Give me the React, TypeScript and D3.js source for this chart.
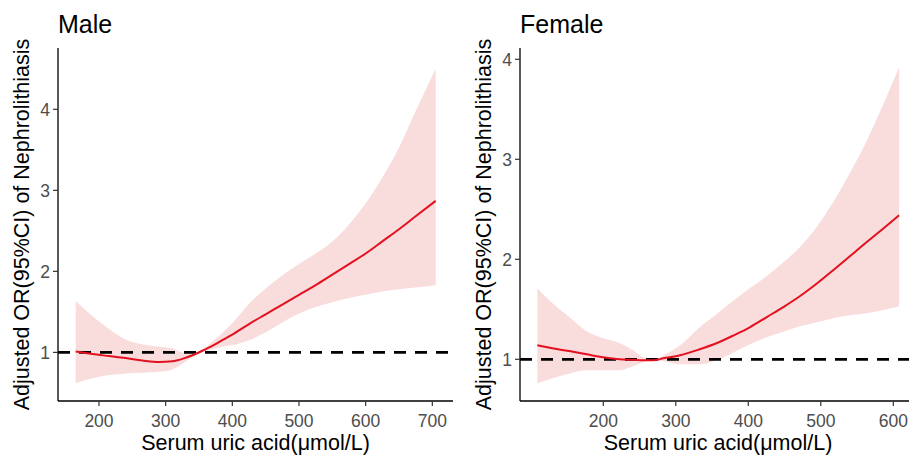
import React from 'react';
import * as d3 from 'd3';

// Male panel: restricted cubic spline OR with 95% CI
const maleUA = [165, 190, 215, 240, 265, 290, 310, 325, 340, 355, 370, 385, 400, 425, 450, 475, 500, 525, 550, 575, 600, 625, 650, 675, 705];
const maleOR = [1.01, 0.98, 0.955, 0.93, 0.9, 0.88, 0.89, 0.92, 0.965, 1.02, 1.08, 1.15, 1.22, 1.35, 1.47, 1.59, 1.71, 1.83, 1.96, 2.09, 2.22, 2.37, 2.52, 2.68, 2.87];
const maleLow = [0.62, 0.68, 0.72, 0.74, 0.75, 0.76, 0.79, 0.86, 0.94, 1.005, 1.04, 1.07, 1.09, 1.15, 1.25, 1.37, 1.48, 1.56, 1.62, 1.67, 1.71, 1.75, 1.78, 1.8, 1.83];
const maleUp = [1.63, 1.45, 1.29, 1.16, 1.1, 1.07, 1.05, 1.0, 0.99, 1.035, 1.13, 1.24, 1.36, 1.6, 1.79, 1.95, 2.09, 2.22, 2.37, 2.58, 2.84, 3.16, 3.53, 3.98, 4.5];

// Female panel
const femaleUA = [109, 130, 155, 177, 200, 223, 241, 255, 269, 283, 306, 333, 356, 380, 402, 425, 450, 471, 495, 517, 540, 563, 585, 608];
const femaleOR = [1.14, 1.11, 1.08, 1.05, 1.02, 1.0, 0.995, 0.99, 0.99, 1.01, 1.04, 1.1, 1.16, 1.24, 1.32, 1.42, 1.53, 1.63, 1.76, 1.89, 2.03, 2.17, 2.3, 2.44];
const femaleLow = [0.76, 0.81, 0.86, 0.89, 0.89, 0.89, 0.93, 0.97, 0.99, 0.98, 0.95, 0.95, 0.99, 1.07, 1.15, 1.22, 1.28, 1.33, 1.37, 1.41, 1.44, 1.46, 1.49, 1.53];
const femaleUp = [1.71, 1.56, 1.41, 1.28, 1.21, 1.16, 1.09, 1.02, 0.995, 1.04, 1.14, 1.32, 1.45, 1.59, 1.71, 1.83, 1.98, 2.12, 2.33, 2.57, 2.86, 3.18, 3.53, 3.92];

const maleXTicks = [200, 300, 400, 500, 600, 700];
const maleYTicks = [1, 2, 3, 4];
const femaleXTicks = [200, 300, 400, 500, 600];
const femaleYTicks = [1, 2, 3, 4];

const font = '"Liberation Sans", Arial, sans-serif';
const xTitle = 'Serum uric acid(μmol/L)';
const yTitle = 'Adjusted OR(95%CI) of Nephrolithiasis';

type PanelProps = {
  title: string;
  xs: number[];
  fit: number[];
  lo: number[];
  hi: number[];
  xDomain: [number, number];
  yDomain: [number, number];
  xTicks: number[];
  yTicks: number[];
  left: number;
  right: number;
};

const top = 48;
const bottom = 401;

function Panel({ title, xs, fit, lo, hi, xDomain, yDomain, xTicks, yTicks, left, right }: PanelProps) {
  const x = d3.scaleLinear().domain(xDomain).range([left, right]);
  const y = d3.scaleLinear().domain(yDomain).range([bottom, top]);
  const idx = xs.map((_, i) => i);

  const band = d3
    .area<number>()
    .x(i => x(xs[i]))
    .y0(i => y(lo[i]))
    .y1(i => y(hi[i]))
    .curve(d3.curveMonotoneX);

  const line = d3
    .line<number>()
    .x(i => x(xs[i]))
    .y(i => y(fit[i]))
    .curve(d3.curveMonotoneX);

  const cx = (left + right) / 2;
  const cy = (top + bottom) / 2;

  return (
    <g>
      <text x={left} y={33} fontSize={25} fontFamily={font} fill="#000">
        {title}
      </text>
      <path d={band(idx) || ''} fill="#f9dcdc" />
      <line x1={left} x2={right} y1={y(1)} y2={y(1)} stroke="#000" strokeWidth={2.8} strokeDasharray="12 9" />
      <path d={line(idx) || ''} fill="none" stroke="#e3101f" strokeWidth={2} />

      <line x1={left} x2={left} y1={top} y2={bottom} stroke="#000" strokeWidth={1.3} />
      <line x1={left} x2={right} y1={bottom} y2={bottom} stroke="#000" strokeWidth={1.3} />

      {yTicks.map(t => (
        <g key={'y' + t}>
          <line x1={left - 5} x2={left} y1={y(t)} y2={y(t)} stroke="#333" strokeWidth={1.2} />
          <text x={left - 8} y={y(t)} dy="0.36em" textAnchor="end" fontSize={17.5} fontFamily={font} fill="#4d4d4d">
            {t}
          </text>
        </g>
      ))}
      {xTicks.map(t => (
        <g key={'x' + t}>
          <line x1={x(t)} x2={x(t)} y1={bottom} y2={bottom + 5} stroke="#333" strokeWidth={1.2} />
          <text x={x(t)} y={426.5} textAnchor="middle" fontSize={17.5} fontFamily={font} fill="#4d4d4d">
            {t}
          </text>
        </g>
      ))}

      <text x={cx} y={450} textAnchor="middle" fontSize={21.5} fontFamily={font} fill="#000">
        {xTitle}
      </text>
      <text
        transform={`translate(${left - 29},${cy}) rotate(-90)`}
        textAnchor="middle"
        fontSize={21.5}
        fontFamily={font}
        fill="#000"
      >
        {yTitle}
      </text>
    </g>
  );
}

export default function App() {
  return (
    <svg
      width={909}
      height={455}
      style={{ position: 'absolute', left: 0, top: 0, background: '#fff' }}
    >
      <rect width={909} height={455} fill="#fff" />
      <Panel
        title="Male"
        xs={maleUA}
        fit={maleOR}
        lo={maleLow}
        hi={maleUp}
        xDomain={[138.5, 731]}
        yDomain={[0.4, 4.757]}
        xTicks={maleXTicks}
        yTicks={maleYTicks}
        left={58}
        right={453}
      />
      <Panel
        title="Female"
        xs={femaleUA}
        fit={femaleOR}
        lo={femaleLow}
        hi={femaleUp}
        xDomain={[85.1, 631.3]}
        yDomain={[0.583, 4.113]}
        xTicks={femaleXTicks}
        yTicks={femaleYTicks}
        left={520}
        right={916}
      />
    </svg>
  );
}
